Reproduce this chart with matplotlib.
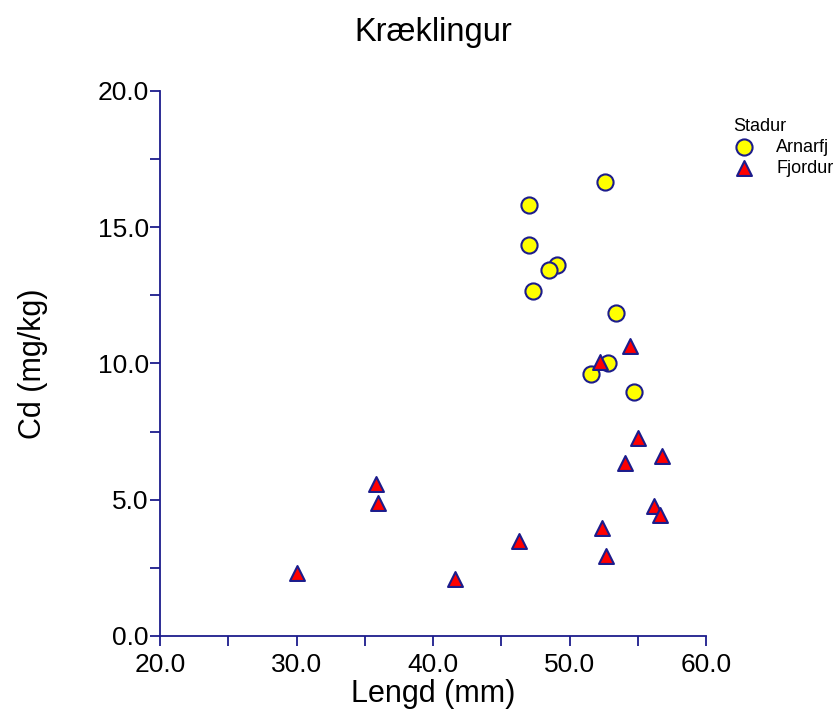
import matplotlib
matplotlib.use("Agg")
import matplotlib.pyplot as plt
from matplotlib.ticker import MultipleLocator, FormatStrFormatter

# Arnarfj (circles)
arnarfj_lengd = [52.6, 47.0, 47.0, 49.1, 48.5, 47.3, 53.4, 52.8, 51.6, 54.7]
arnarfj_cd = [16.67, 15.8, 14.35, 13.6, 13.43, 12.67, 11.85, 10.0, 9.61, 8.95]

# Fjordur (triangles)
fjordur_lengd = [54.4, 52.2, 55.0, 54.1, 56.8, 35.85, 36.0, 56.2, 56.6, 52.4, 46.3, 52.7, 30.0, 41.6]
fjordur_cd = [10.65, 10.05, 7.25, 6.36, 6.6, 5.58, 4.89, 4.78, 4.44, 3.97, 3.5, 2.95, 2.32, 2.08]

navy = "#1c1c8c"
plt.rcParams["font.family"] = ["Liberation Sans", "DejaVu Sans"]

fig = plt.figure(figsize=(8.38, 7.26), dpi=100)
ax = fig.add_axes([0.191, 0.124, 0.6515, 0.7507])

ax.scatter(arnarfj_lengd, arnarfj_cd, s=135, marker="o", facecolor="#ffff00",
           edgecolor=navy, linewidth=1.5, label="Arnarfj", zorder=3)
ax.scatter(fjordur_lengd, fjordur_cd, s=115, marker="^", facecolor="#ff0000",
           edgecolor=navy, linewidth=1.5, label="Fjordur", zorder=3)

ax.set_xlim(20, 60)
ax.set_ylim(0, 20)
ax.xaxis.set_major_locator(MultipleLocator(10))
ax.xaxis.set_minor_locator(MultipleLocator(5))
ax.yaxis.set_major_locator(MultipleLocator(5))
ax.yaxis.set_minor_locator(MultipleLocator(2.5))
ax.xaxis.set_major_formatter(FormatStrFormatter("%.1f"))
ax.yaxis.set_major_formatter(FormatStrFormatter("%.1f"))

for side in ["top", "right"]:
    ax.spines[side].set_visible(False)
for side in ["left", "bottom"]:
    ax.spines[side].set_color(navy)
    ax.spines[side].set_linewidth(1.3)

ax.tick_params(which="both", direction="out", length=7, width=1.3, color=navy,
               labelsize=19)
ax.tick_params(axis="x", which="both", pad=5)
ax.tick_params(axis="y", which="both", pad=1)

ax.set_xlabel("Lengd (mm)", fontsize=22, labelpad=2)
ax.set_ylabel("Cd (mg/kg)", fontsize=22, labelpad=36)
ax.set_title("Kræklingur", fontsize=23.5, pad=36)

leg = ax.legend(loc="upper left", bbox_to_anchor=(0.866, 0.847), bbox_transform=fig.transFigure,
                frameon=False, title="Stadur", fontsize=13, title_fontsize=13,
                handlelength=1.2, handletextpad=1.2, borderaxespad=0, labelspacing=0.2)
leg._legend_box.align = "left"

fig.savefig("out.png", dpi=100)
